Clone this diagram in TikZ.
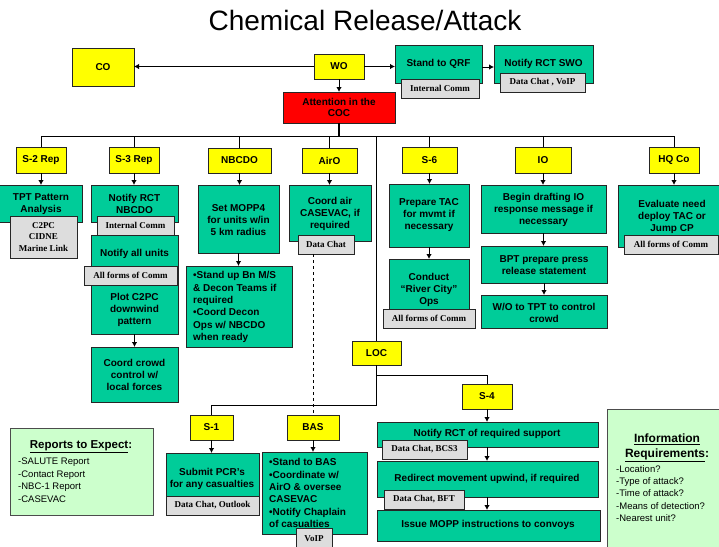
\documentclass[tikz,border=0pt]{standalone}
\usepackage{fontspec}
\setmainfont{Liberation Sans}
\newfontfamily\tnr{Liberation Serif}
\usetikzlibrary{arrows.meta,shadows}
\definecolor{cyel}{HTML}{FFFF00}
\definecolor{cgrn}{HTML}{00CC99}
\definecolor{cred}{HTML}{FF0000}
\definecolor{cgry}{HTML}{DDDDDD}
\definecolor{cinf}{HTML}{CCFFCC}
\newcommand\mkbox[7]{\node[#1, minimum width={((#5)-(#3))*1pt}, minimum height={((#6)-(#4))*1pt}] (#2) at ({((#3)+(#5))/2},{((#4)+(#6))/2}) {#7};}
\tikzset{
  boxbase/.style={draw=black!85, line width=1pt, inner sep=0pt, outer sep=0pt, rectangle, align=center},
  shad/.style={drop shadow={shadow xshift=1pt, shadow yshift=-1pt, opacity=0.55}},
  ybox/.style={boxbase, shad, fill=cyel, font=\fontsize{10}{12}\selectfont\bfseries},
  gbox/.style={boxbase, shad, fill=cgrn},
  rbox/.style={boxbase, shad, fill=cred, font=\fontsize{10}{11.7}\selectfont\bfseries},
  lblbox/.style={boxbase, line width=0.8pt, fill=cgry, font=\tnr\fontsize{9}{11.5}\selectfont\bfseries},
  infbox/.style={boxbase, shad, draw=black!70, fill=cinf},
  btxt/.style={inner sep=0pt, align=center, font=\fontsize{10}{12.3}\selectfont\bfseries},
  ltxt/.style={inner sep=0pt, align=left, font=\fontsize{10}{12.3}\selectfont\bfseries, anchor=west},
  rtxt/.style={inner sep=0pt, align=left, font=\fontsize{9.5}{12.4}\selectfont, anchor=north west},
  conn/.style={line width=1pt, draw=black},
  arr/.style={conn, -{Latex[length=5pt,width=5.5pt]}},
  thk/.style={line width=2.2pt, draw=black},
  mid/.style={line width=1.5pt, draw=black},
}
\begin{document}
\begin{tikzpicture}[x=1pt,y=-1pt]
\useasboundingbox (0,0) rectangle (719,546);
\fill[white] (0,0) rectangle (719,546);

\node[inner sep=0pt, anchor=base, font=\fontsize{28}{30}\selectfont] (title) at (365,30) {Chemical Release/Attack};

\coordinate (bus) at (0,136);
\coordinate (sbus) at (0,405);
\coordinate (j4) at (376.5,375);

% top-level boxes
\mkbox{ybox}{co}{72}{48}{134}{86}{CO}
\mkbox{ybox}{wo}{314}{54}{364}{79}{WO}
\mkbox{gbox}{qrf}{395}{45}{482}{83}{}
\mkbox{gbox}{swo}{494}{45}{593}{83}{}
\mkbox{rbox}{att}{283}{92}{395}{123}{Attention in the\\COC}

\draw[arr] (wo.west) -- (wo.west -| co.east);
\draw[arr] (wo.east) -- (wo.east -| qrf.west);
\draw[arr] ([yshift=-3pt]qrf.east) -- ([yshift=-3pt]qrf.east -| swo.west);
\draw[arr] (wo.south) -- (att.north);

% second level
\mkbox{ybox}{s2}{16}{147}{66}{173}{S-2 Rep}
\mkbox{ybox}{s3}{109}{147}{159}{173}{S-3 Rep}
\mkbox{ybox}{nbc}{208}{148}{271}{173}{NBCDO}
\mkbox{ybox}{airo}{302}{148}{357}{173}{AirO}
\mkbox{ybox}{s6}{402}{147}{457}{173}{S-6}
\mkbox{ybox}{io}{515}{147}{571}{173}{IO}
\mkbox{ybox}{hq}{649}{147}{699}{173}{HQ Co}
\mkbox{ybox}{loc}{352}{341}{401}{365}{LOC}

\draw[thk] (att.south) -- (att.south |- bus);
\draw[conn] (s2.north) -- (s2.north |- bus) -- (hq.north |- bus) -- (hq.north);
\draw[conn] (s3.north) -- (s3.north |- bus);
\draw[conn] (nbc.north) -- (nbc.north |- bus);
\draw[conn] (airo.north) -- (airo.north |- bus);
\draw[conn] (s6.north) -- (s6.north |- bus);
\draw[conn] (io.north) -- (io.north |- bus);
\draw[mid] (loc.north) -- (loc.north |- bus);

% S-2 column
\mkbox{gbox}{tpt}{-3}{185}{82}{222}{}
\node[btxt] (tpt-t) at (41,204) {TPT Pattern\\Analysis};
\mkbox{lblbox}{tpt-l}{10}{216}{77}{258}{C2PC\\CIDNE\\Marine Link}
\draw[arr] (s2.south) -- (s2.south |- tpt.north);

% S-3 column
\mkbox{gbox}{nrn}{91}{185}{178}{222}{}
\node[btxt] (nrn-t) at (134.5,204) {Notify RCT\\NBCDO};
\mkbox{gbox}{nau}{91}{235}{178}{276}{}
\node[btxt] (nau-t) at (134.5,254) {Notify all units};
\mkbox{gbox}{plot}{91}{276}{178}{334}{}
\node[btxt] (plot-t) at (134.5,310) {Plot C2PC\\downwind\\pattern};
\mkbox{lblbox}{nrn-l}{97}{216}{174}{235}{Internal Comm}
\mkbox{lblbox}{plot-l}{84}{266}{177}{285}{All forms of Comm}
\mkbox{gbox}{crowd}{91}{347}{178}{402}{}
\node[btxt] (crowd-t) at (134.5,375) {Coord crowd\\control w/\\local forces};
\draw[arr] (s3.south) -- (s3.south |- nrn.north);
\draw[arr] (plot.south) -- (crowd.north);

% NBCDO column
\mkbox{gbox}{mopp}{198}{185}{279}{253}{}
\node[btxt] (mopp-t) at (238.5,220) {Set MOPP4\\for units w/in\\5 km radius};
\mkbox{gbox}{stand}{186}{266}{292}{347}{}
\node[ltxt] (stand-t) at (193,307) {•Stand up Bn M/S\\\& Decon Teams if\\required\\•Coord Decon\\Ops w/ NBCDO\\when ready};
\draw[arr] (nbc.south) -- (nbc.south |- mopp.north);
\draw[arr] (mopp.south) -- (mopp.south |- stand.north);

% AirO column
\mkbox{gbox}{cair}{289}{185}{371}{241}{}
\node[btxt] (cair-t) at (330,214) {Coord air\\CASEVAC, if\\required};
\mkbox{lblbox}{cair-l}{298}{235}{354}{254}{Data Chat}
\draw[arr] (airo.south) -- (airo.south |- cair.north);

% S-6 column
\mkbox{gbox}{ptac}{389}{184}{469}{247}{}
\node[btxt] (ptac-t) at (429,215) {Prepare TAC\\for mvmt if\\necessary};
\mkbox{gbox}{cond}{389}{259}{469}{310}{}
\node[btxt] (cond-t) at (429,290) {Conduct\\“River City”\\Ops};
\mkbox{lblbox}{cond-l}{383}{309}{475}{328}{All forms of Comm}
\draw[arr] (s6.south) -- (s6.south |- ptac.north);
\draw[arr] (ptac.south) -- (ptac.south |- cond.north);

% IO column
\mkbox{gbox}{begin}{481}{185}{606}{233}{}
\node[btxt] (begin-t) at (543.5,210) {Begin drafting IO\\response message if\\necessary};
\mkbox{gbox}{bpt}{481}{246}{607}{283}{}
\node[btxt] (bpt-t) at (544,265) {BPT prepare press\\release statement};
\mkbox{gbox}{wot}{481}{295}{607}{328}{}
\node[btxt] (wot-t) at (544,313) {W/O to TPT to control\\crowd};
\draw[arr] (io.south) -- (io.south |- begin.north);
\draw[arr] (begin.south) -- (begin.south |- bpt.north);
\draw[arr] (bpt.south) -- (bpt.south |- wot.north);

% HQ column
\mkbox{gbox}{eval}{618}{185}{725}{247}{}
\node[btxt] (eval-t) at (672,217) {Evaluate need\\deploy TAC or\\Jump CP};
\mkbox{lblbox}{eval-l}{624}{235}{718}{254}{All forms of Comm}
\draw[arr] (hq.south) -- (hq.south |- eval.north);

% QRF / SWO texts and labels
\node[btxt] (qrf-t) at (438.5,64) {Stand to QRF};
\node[btxt] (swo-t) at (543.5,64) {Notify RCT SWO};
\mkbox{lblbox}{qrf-l}{401}{79}{479}{98}{Internal Comm}
\mkbox{lblbox}{swo-l}{500}{73}{585}{92}{Data Chat , VoIP}

% LOC branch
\mkbox{ybox}{s1}{190}{415}{233}{440}{S-1}
\mkbox{ybox}{bas}{287}{415}{339}{440}{BAS}
\mkbox{ybox}{s4}{462}{384}{512}{409}{S-4}
\draw[mid] (loc.south) -- (loc.south |- sbus);
\draw[conn] (loc.south |- sbus) -| (s1.north);
\draw[conn] (j4) -| (s4.north);
\draw[conn, dashed] (cair-l.south -| bas.north) -- (bas.north);

\mkbox{gbox}{pcr}{166}{453}{259}{496}{}
\node[btxt] (pcr-t) at (212,479) {Submit PCR’s\\for any casualties};
\mkbox{lblbox}{pcr-l}{166}{496}{259}{515}{Data Chat, Outlook}
\draw[arr] (s1.south) -- (s1.south |- pcr.north);

\mkbox{gbox}{basb}{262}{452}{367}{534}{}
\node[ltxt] (basb-t) at (269,493) {•Stand to BAS\\•Coordinate w/\\AirO \& oversee\\CASEVAC\\•Notify Chaplain\\of casualties};
\mkbox{lblbox}{basb-l}{296}{528}{332}{550}{VoIP}
\draw[arr] (bas.south) -- (bas.south |- basb.north);

\mkbox{gbox}{nts}{377}{422}{598}{447}{}
\node[btxt] (nts-t) at (487,434) {Notify RCT of required support};
\mkbox{gbox}{redir}{377}{461}{598}{497}{}
\node[btxt] (redir-t) at (487,479) {Redirect movement upwind, if required};
\mkbox{gbox}{issue}{377}{510}{600}{541}{}
\node[btxt] (issue-t) at (488,525) {Issue MOPP instructions to convoys};
\draw[arr] (s4.south) -- (s4.south |- nts.north);
\draw[arr] (nts.south -| s4.south) -- (s4.south |- redir.north);
\draw[arr] (redir.south -| s4.south) -- (s4.south |- issue.north);
\mkbox{lblbox}{nts-l}{382}{440}{467}{459}{Data Chat, BCS3}
\mkbox{lblbox}{redir-l}{384}{490}{464}{509}{Data Chat, BFT}

% side boxes
\mkbox{infbox}{rep}{10}{428}{153}{515}{}
\node[inner sep=0pt, font=\fontsize{11.5}{13}\selectfont\bfseries] (rep-h) at (81,447) {\underline{Reports to Expect}:};
\node[rtxt] (rep-t) at (18,458) {-SALUTE Report\\-Contact Report\\-NBC-1 Report\\-CASEVAC};

\mkbox{infbox}{inf}{607}{409}{725}{552}{}
\node[inner sep=0pt, align=center, font=\fontsize{12}{15}\selectfont\bfseries] (inf-h) at (667,448) {\underline{Information}\\\underline{Requirements}:};
\node[rtxt] (inf-t) at (616,465) {-Location?\\-Type of attack?\\-Time of attack?\\-Means of detection?\\-Nearest unit?};
\end{tikzpicture}
\end{document}
